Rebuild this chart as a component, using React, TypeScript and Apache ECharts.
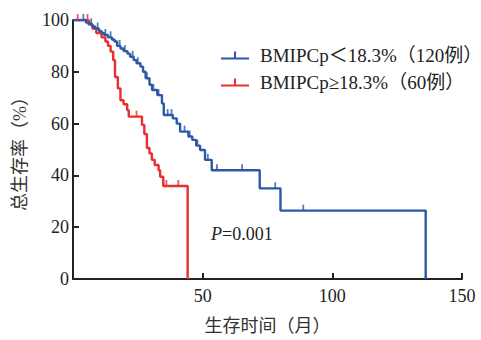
import React, { useEffect, useRef } from "react";
import * as echarts from "echarts";

const xTicks = [0, 50, 100, 150];
const yTicks = [0, 20, 40, 60, 80, 100];

const seriesNames = ["BMIPCp＜18.3%（120例）", "BMIPCp≥18.3%（60例）"];

const blueSteps: [number, number][] = [
  [0, 100], [5, 99], [6.5, 98.3], [7.5, 97.5], [8.5, 96.7], [10, 95.8], [11, 95], [12, 94.2],
  [13.5, 93.3], [15, 92.5], [16, 91.7], [17, 90], [18.3, 89], [19.5, 88], [21, 87], [22, 85.8],
  [23.4, 84.5], [24.5, 83.3], [26, 82], [27, 80], [28, 77.5], [29.5, 75], [30.5, 73], [32.5, 71],
  [34.3, 67.8], [35, 63.3], [38.5, 62], [40, 60], [41.3, 56.9], [44.5, 55], [46, 53.7],
  [47.5, 51.5], [49, 49.8], [50.9, 46], [53.5, 42], [72, 35], [80, 26.4], [136, 0],
];

const redSteps: [number, number][] = [
  [0, 100], [6, 98.3], [7.5, 96.7], [9, 95], [11, 93.3], [12.5, 91.7], [13.5, 90], [14.5, 87.8],
  [15.5, 84.5], [16.2, 78], [17.3, 73.6], [18.3, 69], [19.5, 67.5], [20.9, 65.2], [21.5, 62.7],
  [26.6, 59.5], [27.5, 56], [28.5, 50.6], [29.5, 48.5], [30.4, 46], [31.5, 44], [33, 42],
  [33.6, 39.5], [34.8, 35.9], [44.2, 0],
];

const blueCensored: [number, number][] = [
  [4, 100], [7, 98.3], [9.5, 96.7], [12.5, 94.2], [14.5, 93.3], [18, 90], [20, 88], [23, 85.8],
  [25, 83.3], [28.5, 77.5], [31, 73], [33, 71], [36.5, 63.3], [38, 63.3], [43, 56.9], [45, 55],
  [48, 51.5], [52, 46], [55.5, 42], [65.2, 42], [78, 35], [88.8, 26.4],
];

const redCensored: [number, number][] = [
  [1.8, 100], [5.6, 100], [24.5, 62.7], [36, 35.9], [40.6, 35.9],
];

const BLUE = "#2b58a8";
const RED = "#ea2e2e";
const FONT = "'Liberation Serif', 'Times New Roman', 'Noto Sans CJK SC', serif";

export default function App() {
  const ref = useRef<HTMLDivElement>(null);
  useEffect(() => {
    if (!ref.current) return;
    const chart = echarts.init(ref.current, null, { renderer: "svg" });
    chart.setOption({
      animation: false,
      backgroundColor: "#ffffff",
      textStyle: { fontFamily: FONT },
      grid: { left: 73, right: 19, top: 20, bottom: 61 },
      legend: {
        orient: "vertical",
        left: 216,
        top: 41,
        itemWidth: 28,
        itemHeight: 10,
        itemGap: 8,
        data: seriesNames.map((n, i) => ({
          name: n,
          icon: "path://M0,8h28v2H0z M13,2h2v7h-2z",
          itemStyle: { color: i === 0 ? BLUE : RED },
        })),
        textStyle: { fontFamily: FONT, fontSize: 19, color: "#222", padding: [0, 0, 0, 6] },
      },
      xAxis: {
        type: "value",
        min: xTicks[0],
        max: xTicks[xTicks.length - 1],
        interval: 50,
        name: "生存时间（月）",
        nameLocation: "middle",
        nameGap: 38,
        nameTextStyle: { fontFamily: FONT, fontSize: 18, color: "#333" },
        axisLine: { lineStyle: { color: "#222", width: 2 } },
        axisTick: { inside: true, length: 6, lineStyle: { color: "#222", width: 2 } },
        axisLabel: {
          fontFamily: FONT,
          fontSize: 18,
          color: "#222",
          margin: 8,
          formatter: (v: number) => (v === 0 ? "" : String(v)),
        },
        splitLine: { show: false },
      },
      yAxis: {
        type: "value",
        min: yTicks[0],
        max: yTicks[yTicks.length - 1],
        interval: 20,
        name: "总生存率（%）",
        nameLocation: "middle",
        nameGap: 44,
        nameTextStyle: { fontFamily: FONT, fontSize: 18, color: "#333" },
        axisLine: { show: true, lineStyle: { color: "#222", width: 2 } },
        axisTick: { show: true, inside: true, length: 6, lineStyle: { color: "#222", width: 2 } },
        axisLabel: { fontFamily: FONT, fontSize: 18, color: "#222", margin: 4 },
        splitLine: { show: false },
      },
      series: [
        {
          name: seriesNames[0],
          type: "line",
          step: "end",
          data: blueSteps,
          showSymbol: false,
          symbol: "none",
          lineStyle: { color: BLUE, width: 2.4 },
          itemStyle: { color: BLUE },
          z: 3,
        },
        {
          name: seriesNames[1],
          type: "line",
          step: "end",
          data: redSteps,
          showSymbol: false,
          symbol: "none",
          lineStyle: { color: RED, width: 2.4 },
          itemStyle: { color: RED },
          z: 2,
        },
        {
          name: "blueCensor",
          type: "scatter",
          data: blueCensored,
          symbol: "rect",
          symbolSize: [1.8, 6],
          symbolOffset: [0, -3],
          itemStyle: { color: BLUE },
          z: 4,
        },
        {
          name: "redCensor",
          type: "scatter",
          data: redCensored,
          symbol: "rect",
          symbolSize: [1.8, 6],
          symbolOffset: [0, -3],
          itemStyle: { color: RED },
          z: 4,
        },
      ],
      graphic: [
        {
          type: "text",
          left: 211,
          top: 225,
          style: {
            text: "{i|P}=0.001",
            rich: {
              i: { fontFamily: FONT, fontStyle: "italic", fontSize: 18, fill: "#222" },
            },
            fontFamily: FONT,
            fontSize: 18,
            fill: "#222",
          },
        },
      ],
    });
    return () => chart.dispose();
  }, []);
  return (
    <div
      ref={ref}
      style={{ position: "fixed", left: 0, top: 0, width: 481, height: 340 }}
    />
  );
}
